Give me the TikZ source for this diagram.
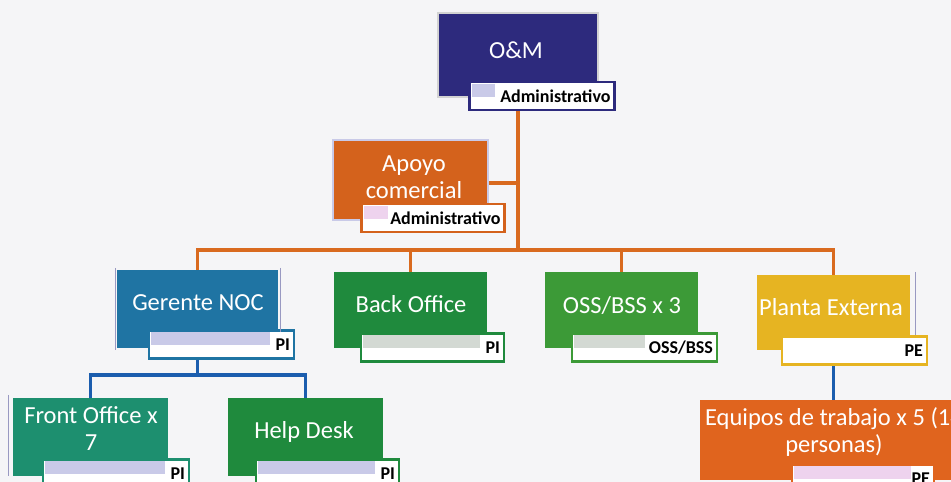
\documentclass[tikz,border=0pt]{standalone}
\usepackage{fontspec}
\setmainfont{Carlito}
\usetikzlibrary{positioning,calc}
\pgfdeclarelayer{links}
\pgfsetlayers{links,main}
\definecolor{omnavy}{HTML}{2D2A7D}
\definecolor{apoyoorange}{HTML}{D4621C}
\definecolor{nocblue}{HTML}{1F74A3}
\definecolor{backgreen}{HTML}{1F8A3D}
\definecolor{ossgreen}{HTML}{3C9A37}
\definecolor{plantagold}{HTML}{E6B422}
\definecolor{frontteal}{HTML}{1D8F6F}
\definecolor{equiposorange}{HTML}{E0641E}
\definecolor{linkorange}{HTML}{D96A1F}
\definecolor{linkblue}{HTML}{1B5DAE}
\definecolor{lavband}{HTML}{C9CAE8}
\definecolor{grayband}{HTML}{D3D9D3}
\definecolor{pinkband}{HTML}{EED3EE}
\definecolor{paper}{HTML}{F5F5F7}

\begin{document}
\begin{tikzpicture}[
    x=1pt, y=-1pt,
    unit/.style={fill=#1, minimum width=155pt, minimum height=78pt, inner sep=0pt},
    unitlabel/.style={anchor=base, text=white, align=center, font=\fontsize{24.5}{26.5}\selectfont},
    tag/.style n args={3}{draw=#1, line width=2.5pt, fill=white, minimum width=145pt, minimum height=28pt,
        inner xsep=4pt, text width=137pt, align=right, anchor=north east, font=\fontsize{18}{20}\selectfont\bfseries,
        path picture={\fill[#2] ([xshift=2pt,yshift=-2pt]path picture bounding box.north west)
            rectangle ([xshift=-#3,yshift=13pt]path picture bounding box.south east);}},
    link/.style={draw=#1, line width=3.5pt},
    frameline/.style={draw=black!60!blue!40, line width=1.2pt}
]
\useasboundingbox (0,0) rectangle (951,482);

% nivel 0
\node[unit=omnavy, draw=gray!35, line width=1.5pt, minimum width=160pt, minimum height=84pt] (om) at (518,55) {};
\node[unitlabel] (omtxt) at (516,58) {O\&M};
\node[tag={omnavy}{lavband}{120pt}] (omtag) at ([xshift=17pt,yshift=17pt]om.south east) {Administrativo};

% apoyo
\node[unit=apoyoorange, draw=lavband, line width=1.5pt, minimum height=80pt] (apoyo) at (410.5,180) {};
\node[unitlabel] (apoyotxt) at (414,198) {Apoyo\\comercial};
\node[tag={apoyoorange}{pinkband}{117pt}, minimum width=143pt, text width=135pt] (apoyotag) at ([xshift=17pt,yshift=18pt]apoyo.south east) {Administrativo};

% nivel 1
\node[unit=nocblue, minimum width=161pt] (noc) at (197.5,309) {};
\node[unitlabel] (noctxt) at (198,310) {Gerente NOC};
\node[tag={nocblue}{lavband}{24pt}] (noctag) at ([xshift=17pt,yshift=19pt]noc.south east) {PI};

\node[unit=backgreen, minimum width=153pt, minimum height=76pt] (back) at (410.5,310) {};
\node[unitlabel] (backtxt) at (411,312) {Back Office};
\node[tag={backgreen}{grayband}{24pt}, minimum width=143pt, text width=135pt] (backtag) at ([xshift=18pt,yshift=16pt]back.south east) {PI};

\node[unit=ossgreen, minimum width=153pt, minimum height=76pt] (oss) at (621.5,310) {};
\node[unitlabel] (osstxt) at (622,313) {OSS/BSS x 3};
\node[tag={ossgreen}{grayband}{72pt}] (osstag) at ([xshift=20pt,yshift=16pt]oss.south east) {OSS/BSS};

\node[unit=plantagold, minimum width=153pt, minimum height=75pt] (planta) at (833.5,312.5) {};
\node[unitlabel] (plantatxt) at (831,315) {Planta Externa};
\node[tag={plantagold}{white}{24pt}] (plantatag) at ([xshift=18pt,yshift=15pt]planta.south east) {PE};

% nivel 2
\node[unit=frontteal] (front) at (90.5,437) {};
\node[unitlabel] (fronttxt) at (91,450) {Front Office x\\7};
\node[tag={frontteal}{lavband}{24pt}, minimum width=146pt, text width=138pt] (fronttag) at ([xshift=22pt,yshift=18pt]front.south east) {PI};

\node[unit=backgreen] (help) at (305.5,437) {};
\node[unitlabel] (helptxt) at (304,438) {Help Desk};
\node[tag={backgreen}{lavband}{24pt}, minimum width=143pt, text width=135pt] (helptag) at ([xshift=17pt,yshift=18pt]help.south east) {PI};

\node[unit=equiposorange, minimum width=266pt, minimum height=80pt] (equipos) at (833,440) {};
\node[unitlabel] (equipostxt) at (834,452) {Equipos de trabajo x 5 (14\\personas)};
\node[tag={equiposorange}{pinkband}{23pt}, minimum width=142pt, text width=134pt] (equipostag) at ([xshift=-31pt,yshift=17pt]equipos.south east) {PE};

% bordes sueltos
\draw[frameline] ([xshift=-1pt,yshift=2pt]noc.north west) -- ([xshift=-1pt,yshift=-2pt]noc.south west);
\draw[frameline] ([xshift=2pt,yshift=2pt]noc.north east) -- ([xshift=2pt,yshift=16pt]noc.south east);
\draw[frameline] ([xshift=-4pt,yshift=3pt]front.north west) -- ([xshift=-4pt]front.south west);
\draw[frameline] ([xshift=5pt,yshift=3pt]planta.north east) -- ([xshift=5pt,yshift=15pt]planta.south east);

% conectores
\begin{pgfonlayer}{links}
\fill[paper] (0,0) rectangle (951,482);
\coordinate (bus) at (518,250);
\draw[link=linkorange] (om.south) -- (bus);
\draw[link=linkorange] ([yshift=-3pt]apoyo.east) -- ([yshift=-3pt]apoyo.east -| bus);
\draw[link=linkorange] (noc.north) |- (bus) -| (planta.north);
\draw[link=linkorange] (back.north) -- (back.north |- bus);
\draw[link=linkorange] (oss.north) -- (oss.north |- bus);
\coordinate (nocbus) at (197.5,375);
\draw[link=linkblue] (noc.south) -- (nocbus);
\draw[link=linkblue] (front.north) |- (nocbus) -| (help.north);
\draw[link=linkblue] (planta.south) -- (planta.south |- equipos.north);
\end{pgfonlayer}
\end{tikzpicture}
\end{document}
